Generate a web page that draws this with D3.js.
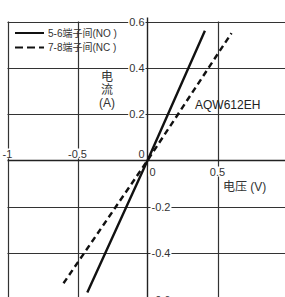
<!DOCTYPE html>
<html>
<head>
<meta charset="utf-8">
<script src="https://cdn.jsdelivr.net/npm/d3@7"></script>
<style>
  body { margin: 0; background: #fff; }
  svg { display: block; font-family: "Liberation Sans", Arial, "Noto Sans CJK SC", sans-serif; }
</style>
</head>
<body>
<div id="chart"></div>
<script>
const width = 285;
const height = 297;

// ticks
const xTicks = [-1, -0.5, 0, 0.5];
const yTicks = [0.6, 0.4, 0.2, 0, -0.2, -0.4, -0.6];
const xLabels = ['-1', '-0.5', '0', '0.5'];
const yLabels = ['0.6', '0.4', '0.2', '0', '-0.2', '-0.4', '-0.6'];

// series (V, A)
const noVolt = [-0.43, 0, 0.41];
const noAmp = [-0.57, 0, 0.56];
const ncVolt = [-0.6, 0, 0.6];
const ncAmp = [-0.53, 0, 0.55];

const seriesNames = ['5-6端子间(NO )', '7-8端子间(NC )'];

const x = d3.scaleLinear().domain([-1, 1]).range([7.5, 287.5]);
const y = d3.scaleLinear().domain([-0.6, 0.6]).range([299.5, 21.5]);

const svg = d3.select('#chart')
  .append('svg')
  .attr('width', width)
  .attr('height', height);

const gridColor = '#333';

// top text, mostly cut off by the frame
svg.append('text')
  .attr('x', -2)
  .attr('y', -1)
  .attr('font-size', 12)
  .attr('fill', '#333')
  .text('温度：25°C');

// horizontal grid
svg.append('g')
  .selectAll('line')
  .data(yTicks.filter((d) => d !== 0))
  .enter()
  .append('line')
  .attr('x1', x(-1))
  .attr('x2', width)
  .attr('y1', (d) => Math.round(y(d)) + 0.5)
  .attr('y2', (d) => Math.round(y(d)) + 0.5)
  .attr('stroke', gridColor)
  .attr('stroke-width', 1.2);

// vertical grid
svg.append('g')
  .selectAll('line')
  .data(xTicks.filter((d) => d !== 0))
  .enter()
  .append('line')
  .attr('x1', (d) => Math.round(x(d)) + 0.5)
  .attr('x2', (d) => Math.round(x(d)) + 0.5)
  .attr('y1', y(0.6))
  .attr('y2', height)
  .attr('stroke', gridColor)
  .attr('stroke-width', 1.2);

// main axes
svg.append('line')
  .attr('x1', x(-1)).attr('x2', width)
  .attr('y1', y(0)).attr('y2', y(0))
  .attr('stroke', '#222').attr('stroke-width', 1.4);
svg.append('line')
  .attr('x1', x(0)).attr('x2', x(0))
  .attr('y1', y(0.6) - 4).attr('y2', height)
  .attr('stroke', '#222').attr('stroke-width', 1.4);

function label(g, tx, ty, text, anchor, size) {
  const t = g.append('text')
    .attr('x', tx)
    .attr('y', ty)
    .attr('text-anchor', anchor)
    .attr('dominant-baseline', 'central')
    .attr('font-size', size)
    .attr('fill', '#333')
    .text(text);
  const b = t.node().getBBox();
  g.insert('rect', 'text:last-child')
    .attr('x', b.x - 1)
    .attr('y', b.y + 1)
    .attr('width', b.width + 2)
    .attr('height', b.height - 2)
    .attr('fill', '#fff');
}

// y tick labels
yTicks.forEach((d, i) => {
  const g = svg.append('g');
  if (d > 0) label(g, x(0) - 3, y(d), yLabels[i], 'end', 11);
  else if (d < 0) label(g, x(0) + 4, y(d), yLabels[i], 'start', 11);
  else label(g, x(0) - 3, y(0) - 7, yLabels[i], 'end', 11);
});

// x tick labels
xTicks.forEach((d, i) => {
  const g = svg.append('g');
  if (d < 0) label(g, x(d), y(0) - 7, xLabels[i], 'middle', 11);
  else if (d === 0) label(g, x(0) + 5, y(0) + 11, xLabels[i], 'middle', 11);
  else label(g, x(d), y(0) + 11, xLabels[i], 'middle', 11);
});

// axis titles
svg.append('text')
  .attr('x', 223).attr('y', 187)
  .attr('dominant-baseline', 'central')
  .attr('font-size', 12).attr('fill', '#333')
  .text('电压 (V)');

const yTitle = svg.append('text')
  .attr('text-anchor', 'middle')
  .attr('font-size', 12).attr('fill', '#333');
['电', '流', '(A)'].forEach((s, i) => {
  yTitle.append('tspan')
    .attr('x', 107)
    .attr('y', 81 + i * 13)
    .text(s);
});

svg.append('text')
  .attr('x', 195).attr('y', 105)
  .attr('dominant-baseline', 'central')
  .attr('font-size', 12).attr('fill', '#222')
  .text('AQW612EH');

// curves
const line = d3.line()
  .x((d) => x(d[0]))
  .y((d) => y(d[1]));

svg.append('path')
  .datum(noVolt.map((v, i) => [v, noAmp[i]]))
  .attr('d', line)
  .attr('fill', 'none')
  .attr('stroke', '#111')
  .attr('stroke-width', 2.4);

svg.append('path')
  .datum(ncVolt.map((v, i) => [v, ncAmp[i]]))
  .attr('d', line)
  .attr('fill', 'none')
  .attr('stroke', '#111')
  .attr('stroke-width', 2.4)
  .attr('stroke-dasharray', '6,4');

// legend
const legend = svg.append('g');
seriesNames.forEach((name, i) => {
  const ly = 33 + i * 14.5;
  legend.append('line')
    .attr('x1', 15).attr('x2', 44)
    .attr('y1', ly).attr('y2', ly)
    .attr('stroke', '#111')
    .attr('stroke-width', 2)
    .attr('stroke-dasharray', i === 1 ? '8,4' : null);
  legend.append('text')
    .attr('x', 48).attr('y', ly)
    .attr('dominant-baseline', 'central')
    .attr('font-size', 10).attr('fill', '#333')
    .text(name);
});
</script>
</body>
</html>
